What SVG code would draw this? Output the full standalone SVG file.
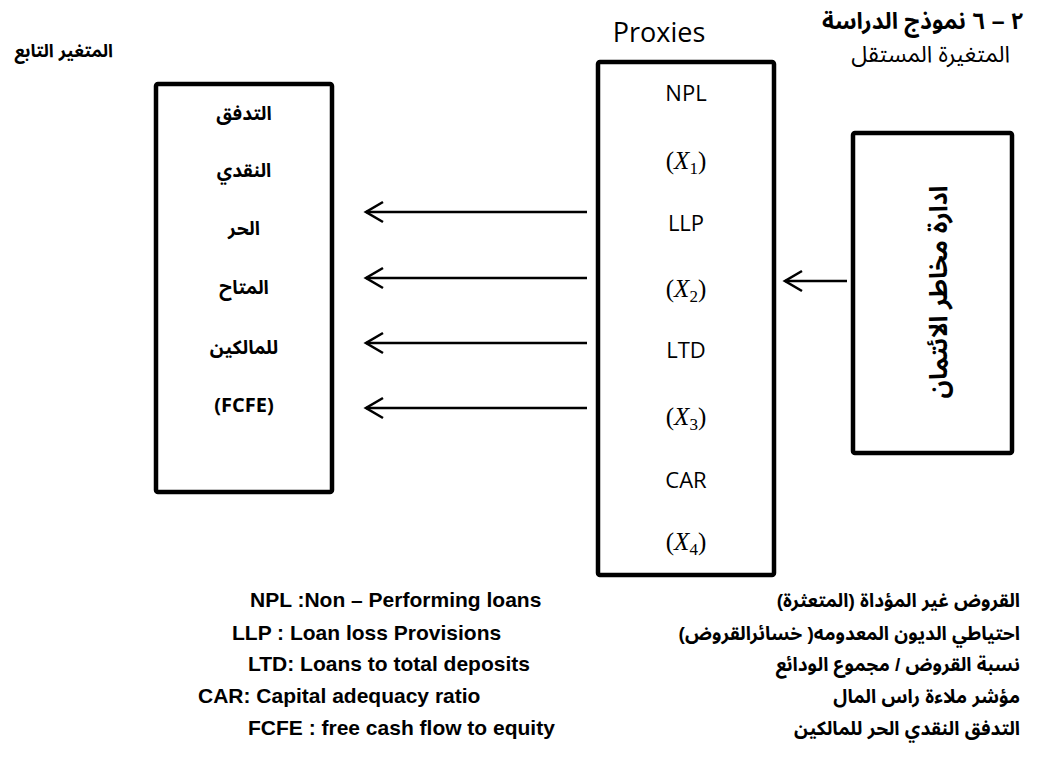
<svg xmlns="http://www.w3.org/2000/svg" width="1046" height="776" viewBox="0 0 1046 776">
<style>
.box{fill:#fff;stroke:#000;stroke-width:4.5;stroke-linejoin:round}
.ar{font-family:"Liberation Sans","Noto Sans Arabic","DejaVu Sans",sans-serif;fill:#000}
.b{font-weight:bold}
.lat{font-family:"Open Sans","Noto Sans","Liberation Sans",sans-serif;fill:#000}
.math{font-family:"Liberation Serif","DejaVu Serif",serif;fill:#000;font-size:25px}
.leg{font-family:"Liberation Sans",Arial,sans-serif;font-weight:bold;font-size:21px;fill:#000}
.con{stroke:#000;stroke-width:2.6;fill:none}
</style>
<defs>
<marker id="arr" markerUnits="userSpaceOnUse" viewBox="-20 -13 22 26" markerWidth="22" markerHeight="26" refX="0" refY="0" orient="auto" overflow="visible">
<path d="M-17,-10 L0,0 L-17,10" fill="none" stroke="#000" stroke-width="2.6"/>
</marker>
</defs>
<rect width="1046" height="776" fill="#fff"/>

<g id="titles">
<text class="ar b" x="1024" y="29" font-size="23" text-anchor="start" direction="rtl">٢ – ٦ نموذج الدراسة</text>
<text class="ar" x="1010" y="62" font-size="23" text-anchor="start" direction="rtl">المتغيرة المستقل</text>
<text class="ar b" x="113" y="57" font-size="18" text-anchor="start" direction="rtl">المتغير التابع</text>
<text class="lat" x="659" y="42" font-size="27" text-anchor="middle">Proxies</text>
</g>

<g id="dependent">
<rect class="box" x="156" y="84" width="176" height="408" rx="2"/>
<g class="ar b" font-size="19" text-anchor="middle">
<text x="244" y="120" direction="rtl">التدفق</text>
<text x="244" y="177" direction="rtl">النقدي</text>
<text x="244" y="235" direction="rtl">الحر</text>
<text x="244" y="294" direction="rtl">المتاح</text>
<text x="244" y="354" direction="rtl">للمالكين</text>
</g>
<text class="lat b" x="244" y="412" font-size="20" font-weight="bold" text-anchor="middle">(FCFE)</text>
</g>

<g id="proxies">
<rect class="box" x="598" y="62" width="176" height="513" rx="2"/>
<g class="lat" font-size="22" text-anchor="middle">
<text x="686" y="101">NPL</text>
<text x="686" y="231">LLP</text>
<text x="686" y="358">LTD</text>
<text x="686" y="488">CAR</text>
</g>
<g class="math" text-anchor="middle">
<text x="686" y="169">(<tspan font-style="italic">X</tspan><tspan font-size="17" dy="5">1</tspan><tspan dy="-5">)</tspan></text>
<text x="686" y="297">(<tspan font-style="italic">X</tspan><tspan font-size="17" dy="5">2</tspan><tspan dy="-5">)</tspan></text>
<text x="686" y="425">(<tspan font-style="italic">X</tspan><tspan font-size="17" dy="5">3</tspan><tspan dy="-5">)</tspan></text>
<text x="686" y="550">(<tspan font-style="italic">X</tspan><tspan font-size="17" dy="5">4</tspan><tspan dy="-5">)</tspan></text>
</g>
</g>

<g id="independent">
<rect class="box" x="853" y="133" width="159" height="320" rx="2"/>
<text class="ar b" font-size="25" text-anchor="middle" direction="rtl" transform="translate(938,292) rotate(-90)" y="9">ادارة مخاطر الائتمان</text>
</g>

<g id="connectors">
<line class="con" x1="587" y1="212" x2="366" y2="212" marker-end="url(#arr)"/>
<line class="con" x1="587" y1="278" x2="366" y2="278" marker-end="url(#arr)"/>
<line class="con" x1="587" y1="343" x2="366" y2="343" marker-end="url(#arr)"/>
<line class="con" x1="587" y1="408" x2="366" y2="408" marker-end="url(#arr)"/>
<line class="con" x1="847" y1="281" x2="785" y2="281" marker-end="url(#arr)"/>
</g>

<g id="legend">
<text class="leg" x="250" y="607">NPL :Non – Performing loans</text>
<text class="leg" x="232" y="640">LLP : Loan loss Provisions</text>
<text class="leg" x="248" y="671">LTD: Loans to total deposits</text>
<text class="leg" x="198" y="703">CAR: Capital adequacy ratio</text>
<text class="leg" x="248" y="735">FCFE : free cash flow to equity</text>
<g class="ar b" font-size="19" text-anchor="start">
<text x="1020" y="607" direction="rtl">القروض غير المؤداة (المتعثرة)</text>
<text x="1020" y="640" direction="rtl">احتياطي الديون المعدومه( خسائرالقروض)</text>
<text x="1020" y="671" direction="rtl">نسبة القروض / مجموع الودائع</text>
<text x="1020" y="703" direction="rtl">مؤشر ملاءة راس المال</text>
<text x="1020" y="735" direction="rtl">التدفق النقدي الحر للمالكين</text>
</g>
</g>
</svg>
